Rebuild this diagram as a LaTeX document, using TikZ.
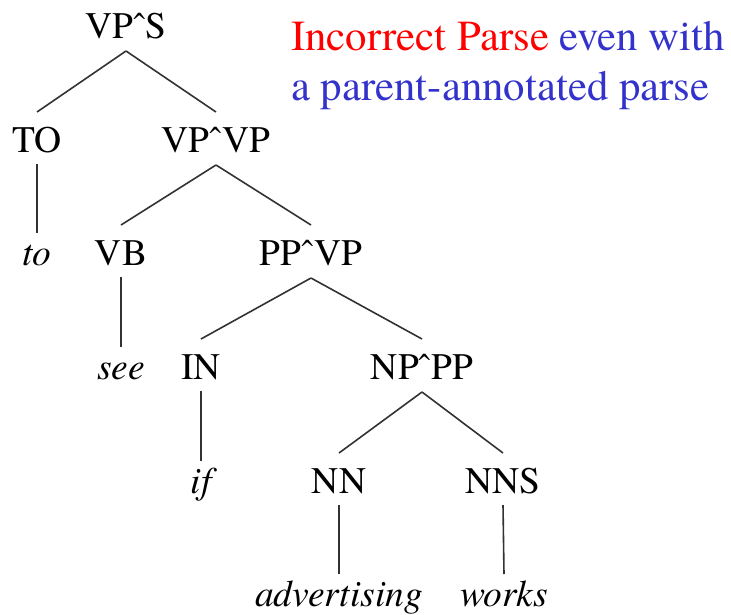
\documentclass[tikz,border=0pt]{standalone}
\usepackage{fontspec}
\setmainfont{texgyretermes}[Extension=.otf,UprightFont=*-regular,ItalicFont=*-italic,BoldFont=*-bold,BoldItalicFont=*-bolditalic]
\usetikzlibrary{calc}
\definecolor{titlered}{RGB}{255,0,0}
\definecolor{titleblue}{RGB}{51,51,204}
\definecolor{branch}{RGB}{50,50,50}
\begin{document}
\begin{tikzpicture}[x=1pt,y=-1pt,
  lbl/.style={anchor=base,inner sep=0pt,font=\fontsize{37.5}{40}\selectfont},
  word/.style={lbl,font=\fontsize{37.5}{40}\selectfont\itshape},
  edge/.style={draw=branch,line width=1.6pt},
  title/.style={anchor=base west,inner sep=0pt,font=\fontsize{42.8}{50}\selectfont}]
\useasboundingbox (0,0) rectangle (731,614);

% constituent labels (placed on their baselines)
\node[lbl] (vps)  at (126,38)  {VPˆS};
\node[lbl] (to)   at (37,152)  {TO};
\node[lbl] (vpvp) at (216,152) {VPˆVP};
\node[word] (wto) at (37,265)  {to};
\node[lbl] (vb)   at (121,265) {VB};
\node[lbl] (ppvp) at (311,265) {PPˆVP};
\node[word] (wsee) at (121,379) {see};
\node[lbl] (in)   at (201,379) {IN};
\node[lbl] (nppp) at (422,379) {NPˆPP};
\node[word] (wif) at (201,493) {if};
\node[lbl] (nn)   at (339,493) {NN};
\node[lbl] (nns)  at (503,493) {NNS};
\node[word] (wadv) at (339,606) {advertising};
\node[word] (wworks) at (504,606) {works};

% branches: from below a parent to above a child
\foreach \p/\c in {vps/to,vps/vpvp,vpvp/vb,vpvp/ppvp,ppvp/in,ppvp/nppp,nppp/nn,nppp/nns}
  \draw[edge] ($(\p.base)+(0,13)$) -- ($(\c.base)+(0,-40)$);
\foreach \p/\c in {to/wto,vb/wsee,in/wif,nn/wadv,nns/wworks}
  \draw[edge] ($(\p.base)+(0,12)$) -- ($(\c.base)+(0,-32)$);

% caption
\node[title] (t1) at (291,50) {\color{titlered}Incorrect Parse \color{titleblue}even with};
\node[title] (t2) at (291,100) {\color{titleblue}a parent-annotated parse};
\end{tikzpicture}
\end{document}
